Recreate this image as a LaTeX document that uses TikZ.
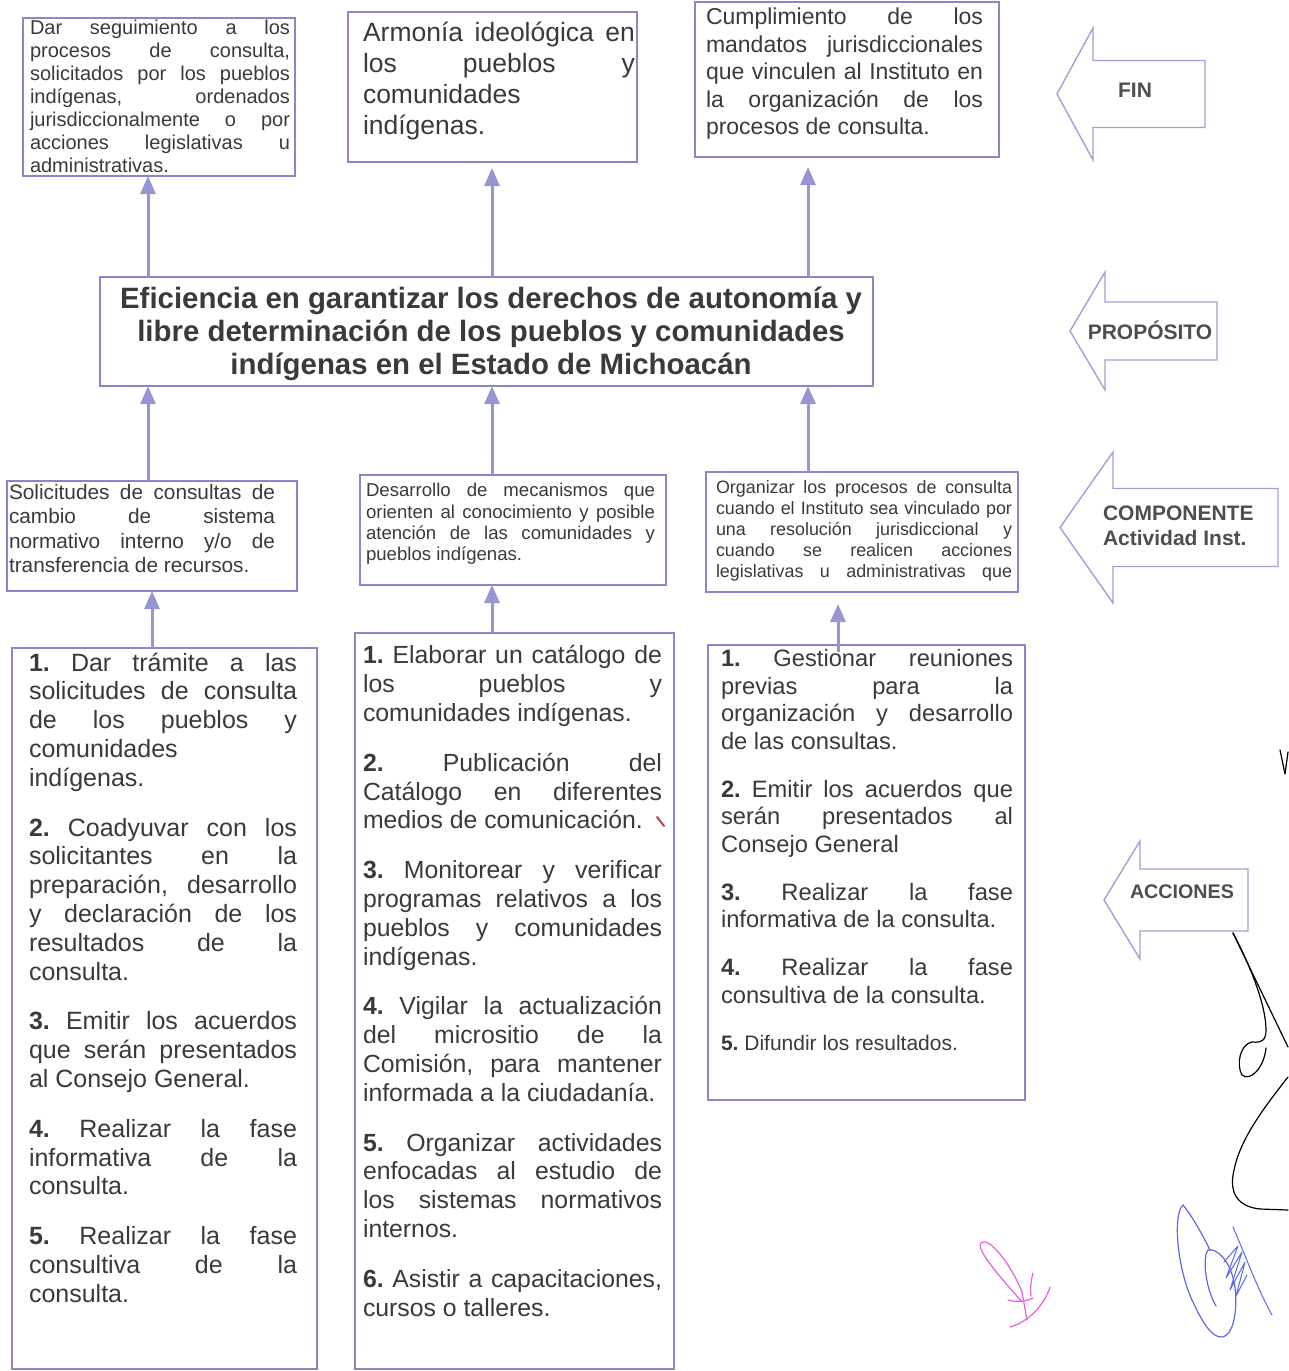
\documentclass[tikz,border=0pt]{standalone}
\usepackage{fontspec}
\setmainfont{Liberation Sans}
\usetikzlibrary{arrows.meta}
\definecolor{boxc}{RGB}{136,136,200}
\definecolor{arrc}{RGB}{150,150,212}
\definecolor{blk}{RGB}{160,160,215}
\definecolor{txt}{RGB}{58,58,58}
\definecolor{lbl}{RGB}{78,78,78}
\definecolor{sigblue}{RGB}{95,105,225}
\definecolor{sigpink}{RGB}{232,95,215}
\definecolor{sigred}{RGB}{175,70,70}
\tolerance=10000
\hbadness=10000
\hyphenpenalty=10000
\exhyphenpenalty=10000
\frenchspacing
\setlength\parindent{0pt}
\newcommand\fsz[2]{\fontsize{#1bp}{#2bp}\selectfont}
\newcommand\nb[1]{\textbf{#1}}
\newcommand\tops{\rule{0pt}{0.8em}}
\newcommand\pgap[1]{\par\vspace{#1bp}}
\begin{document}
\begin{tikzpicture}[x=1bp,y=-1bp,
  boxnode/.style={draw=boxc,line width=2.8bp,rectangle,inner sep=0pt,outer sep=0pt,anchor=north west},
  txtnode/.style={anchor=north west,inner sep=0pt,outer sep=0pt,align=justify,text=txt},
  conn/.style={draw=arrc,line width=3bp,-{Triangle[width=15bp,length=18bp]}},
  blockarrow/.style={draw=blk,line width=1.4bp,fill=white,line join=miter},
  blbl/.style={inner sep=0pt,outer sep=0pt,text=lbl},
  sig/.style={line width=1.2bp,line cap=round,line join=round}]
\useasboundingbox (0,0) rectangle (1288,1371);
\fill[white] (0,0) rectangle (1288,1371);

% column coordinates for connectors
\coordinate (colL) at (148,0);
\coordinate (colM) at (492,0);
\coordinate (colR) at (808,0);
\coordinate (colA1) at (152,0);
\coordinate (colA3) at (838,0);

% ---------- boxes ----------
\node[boxnode,minimum width=272bp,minimum height=158bp] (f1) at (23,18) {};
\node[boxnode,minimum width=289bp,minimum height=150bp] (f2) at (348,12) {};
\node[boxnode,minimum width=304bp,minimum height=155bp] (f3) at (695,2) {};
\node[boxnode,minimum width=773bp,minimum height=109bp] (purp) at (100,277) {};
\node[boxnode,minimum width=290bp,minimum height=110bp] (c1) at (7,481) {};
\node[boxnode,minimum width=306bp,minimum height=110bp] (c2) at (360,475) {};
\node[boxnode,minimum width=312bp,minimum height=120bp] (c3) at (706,472) {};
\node[boxnode,minimum width=305bp,minimum height=721bp] (a1) at (12,648) {};
\node[boxnode,minimum width=319bp,minimum height=736bp] (a2) at (355,633) {};
\node[boxnode,minimum width=317bp,minimum height=455bp] (a3) at (708,645) {};

% ---------- texts ----------
\node[txtnode,font=\fsz{20}{23},text width=260bp] (t-f1) at (30,19) {\tops Dar seguimiento a los\linebreak procesos de consulta,\linebreak solicitados por los pueblos\linebreak indígenas, ordenados\linebreak jurisdiccionalmente o por\linebreak acciones legislativas u\linebreak administrativas.};

\node[txtnode,font=\fsz{26.5}{31},text width=272bp] (t-f2) at (363,20) {\tops Armonía ideológica en\linebreak los pueblos y\linebreak comunidades\linebreak indígenas.};

\node[txtnode,font=\fsz{23}{27.5},text width=277bp] (t-f3) at (706,6.6) {\tops Cumplimiento de los\linebreak mandatos jurisdiccionales\linebreak que vinculen al Instituto en\linebreak la organización de los\linebreak procesos de consulta.};

\node[anchor=north,inner sep=0pt,outer sep=0pt,align=center,text=txt,font=\fsz{29.4}{33}\bfseries] (t-p) at (491,284.5) {\tops Eficiencia en garantizar los derechos de autonomía y\\ libre determinación de los pueblos y comunidades\\ indígenas en el Estado de Michoacán};

\node[txtnode,font=\fsz{20.8}{24.5},text width=266bp] (t-c1) at (9,482.4) {\tops Solicitudes de consultas de\linebreak cambio de sistema\linebreak normativo interno y/o de\linebreak transferencia de recursos.};

\node[txtnode,font=\fsz{18.6}{21.3},text width=289bp] (t-c2) at (366,482) {\tops Desarrollo de mecanismos que\linebreak orienten al conocimiento y posible\linebreak atención de las comunidades y\linebreak pueblos indígenas.};

\node[txtnode,font=\fsz{17.9}{21.2},text width=296bp] (t-c3) at (716,478.7) {\parfillskip=0pt\tops Organizar los procesos de consulta\linebreak cuando el Instituto sea vinculado por\linebreak una resolución jurisdiccional y\linebreak cuando se realicen acciones\linebreak legislativas u administrativas que\par};

\node[txtnode,font=\fsz{25}{28.8},text width=268bp] (t-a1) at (29,651) {\tops\nb{1.} Dar trámite a las\linebreak solicitudes de consulta\linebreak de los pueblos y\linebreak comunidades\linebreak indígenas.\pgap{21}
\nb{2.} Coadyuvar con los\linebreak solicitantes en la\linebreak preparación, desarrollo\linebreak y declaración de los\linebreak resultados de la\linebreak consulta.\pgap{21}
\nb{3.} Emitir los acuerdos\linebreak que serán presentados\linebreak al Consejo General.\pgap{21}
\nb{4.} Realizar la fase\linebreak informativa de la\linebreak consulta.\pgap{21}
\nb{5.} Realizar la fase\linebreak consultiva de la\linebreak consulta.};

\node[txtnode,font=\fsz{24.8}{28.8},text width=299bp] (t-a2) at (363,644) {\tops\nb{1.} Elaborar un catálogo de\linebreak los pueblos y\linebreak comunidades indígenas.\pgap{21}
\nb{2.} Publicación del\linebreak Catálogo en diferentes\linebreak medios de comunicación.\pgap{21}
\nb{3.} Monitorear y verificar\linebreak programas relativos a los\linebreak pueblos y comunidades\linebreak indígenas.\pgap{21}
\nb{4.} Vigilar la actualización\linebreak del micrositio de la\linebreak Comisión, para mantener\linebreak informada a la ciudadanía.\pgap{21}
\nb{5.} Organizar actividades\linebreak enfocadas al estudio de\linebreak los sistemas normativos\linebreak internos.\pgap{21}
\nb{6.} Asistir a capacitaciones,\linebreak cursos o talleres.};

\node[txtnode,font=\fsz{23.7}{27.5},text width=292bp] (t-a3) at (721,648) {\tops\nb{1.} Gestionar reuniones\linebreak previas para la\linebreak organización y desarrollo\linebreak de las consultas.\pgap{20.5}
\nb{2.} Emitir los acuerdos que\linebreak serán presentados al\linebreak Consejo General\pgap{20.5}
\nb{3.} Realizar la fase\linebreak informativa de la consulta.\pgap{20.5}
\nb{4.} Realizar la fase\linebreak consultiva de la consulta.\pgap{19.5}
{\fsz{21}{27.5}\nb{5.} Difundir los resultados.\par}};

% ---------- connectors ----------
\draw[conn] (purp.north -| colL) -- (f1.south -| colL);
\draw[conn,shorten >=6bp] (purp.north -| colM) -- (f2.south -| colM);
\draw[conn,shorten >=10bp] (purp.north -| colR) -- (f3.south -| colR);
\draw[conn] (c1.north -| colL) -- (purp.south -| colL);
\draw[conn] (c2.north -| colM) -- (purp.south -| colM);
\draw[conn] (c3.north -| colR) -- (purp.south -| colR);
\draw[conn] (a1.north -| colA1) -- (c1.south -| colA1);
\draw[conn] (a2.north -| colM) -- (c2.south -| colM);
\draw[conn,shorten <=-7bp,shorten >=12bp] (a3.north -| colA3) -- (c3.south -| colA3);

% ---------- level block arrows ----------
\newcommand\blockarr[6]{% tipx, cy, headx, headhalf, shafthalf, rightx
  \draw[blockarrow] (#1,#2) -- (#3,#2-#4) -- (#3,#2-#5) -- (#6,#2-#5) -- (#6,#2+#5) -- (#3,#2+#5) -- (#3,#2+#4) -- cycle;}
\blockarr{1057}{94}{1093}{66}{33.5}{1205}
\blockarr{1070}{331}{1105}{59}{29}{1217}
\blockarr{1060}{527.5}{1113}{75.5}{39}{1278}
\blockarr{1104}{900}{1140}{59}{31}{1248}
\node[blbl,anchor=base,font=\fsz{21}{25}\bfseries] (l-fin) at (1135,97.5) {FIN};
\node[blbl,anchor=base,font=\fsz{21}{25}\bfseries] (l-prop) at (1150,339.5) {PROPÓSITO};
\node[blbl,anchor=north west,align=left,font=\fsz{21}{25}\bfseries] (l-comp) at (1103,503.7) {\tops COMPONENTE\\Actividad Inst.};
\node[blbl,anchor=base,font=\fsz{19.7}{24}\bfseries] (l-acc) at (1182,898) {ACCIONES};

% ---------- handwritten marks ----------
\draw[sigred,line width=2bp,line cap=round] (657,817) -- (664,826);
% black signature
\draw[sig,black] (1280,750) -- (1285,774) -- (1288,752);
\draw[sig,black] (1233,933) -- (1288,1047);
\draw[sig,black] (1233,933) .. controls (1250,965) and (1266,1005) .. (1266,1030)
  .. controls (1266,1040) and (1262,1043) .. (1252,1042)
  .. controls (1240,1044) and (1236,1065) .. (1242,1075)
  .. controls (1250,1082) and (1264,1068) .. (1266,1048);
\draw[sig,black] (1288,1077) .. controls (1262,1110) and (1240,1140) .. (1234,1170)
  .. controls (1228,1195) and (1240,1207) .. (1260,1209) -- (1288,1210);
% blue signature
\draw[sig,sigblue] (1183,1205) .. controls (1172,1215) and (1178,1270) .. (1192,1300)
  .. controls (1202,1322) and (1212,1338) .. (1222,1337)
  .. controls (1236,1335) and (1238,1300) .. (1234,1282)
  .. controls (1230,1262) and (1218,1248) .. (1208,1250)
  .. controls (1203,1255) and (1204,1285) .. (1216,1306);
\draw[sig,sigblue] (1183,1205) .. controls (1195,1220) and (1205,1240) .. (1210,1250);
\draw[sig,sigblue,line width=1bp] (1224,1262) -- (1238,1246) -- (1226,1278) -- (1242,1252) -- (1230,1290) -- (1245,1262) -- (1236,1296) -- (1247,1275);
\draw[sig,sigblue,line width=1bp] (1233,1227) .. controls (1248,1262) and (1258,1290) .. (1272,1315);
% pink signature
\draw[sig,sigpink] (1022,1302) .. controls (1005,1282) and (975,1250) .. (981,1243)
  .. controls (988,1236) and (1010,1262) .. (1022,1292) -- (1027,1320);
\draw[sig,sigpink] (1008,1300) .. controls (1015,1302) and (1025,1302) .. (1033,1298);
\draw[sig,sigpink] (1033,1273) .. controls (1031,1280) and (1030,1288) .. (1031,1296);
\draw[sig,sigpink] (1050,1287) .. controls (1044,1306) and (1028,1322) .. (1010,1327);
\end{tikzpicture}
\end{document}
